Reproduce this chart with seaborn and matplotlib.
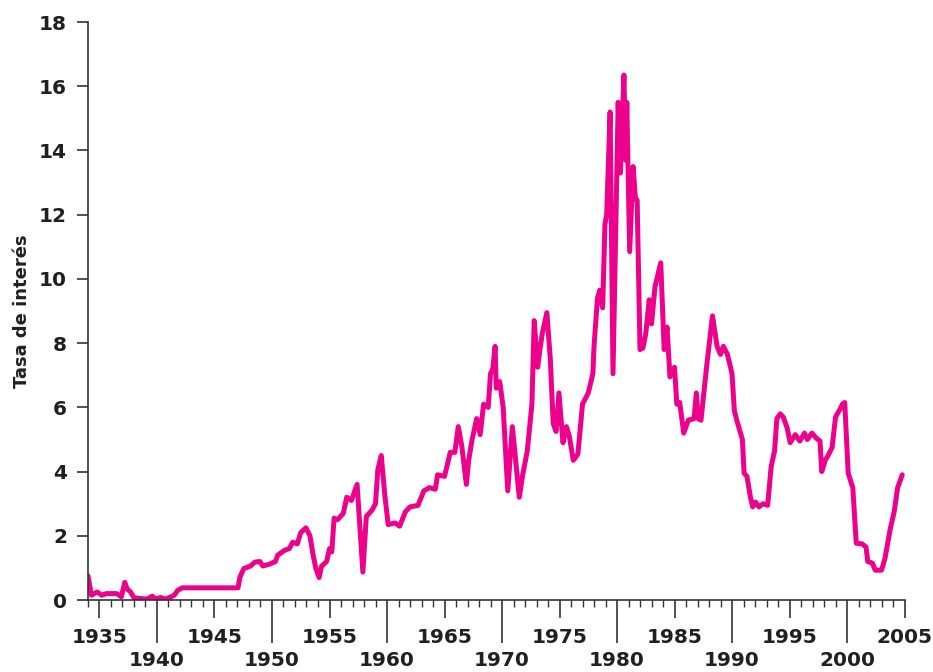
import numpy as np
import pandas as pd
import matplotlib
matplotlib.use("Agg")
import matplotlib.pyplot as plt
import seaborn as sns

# tasa de interés (letras del tesoro)
years = [
    1934.0, 1934.3, 1934.8, 1935.2, 1935.6, 1936.1, 1936.5, 1936.9, 1937.2, 1937.4,
    1937.7, 1938.0, 1938.5, 1939.1, 1939.6, 1939.9, 1940.3, 1940.7, 1941.1, 1941.5,
    1941.8, 1942.2, 1947.05, 1947.2, 1947.55, 1948.1, 1948.5, 1948.95, 1949.2, 1949.8,
    1950.3, 1950.5, 1951.1, 1951.5, 1951.8, 1952.2, 1952.5, 1952.95, 1953.3, 1953.55,
    1953.8, 1954.1, 1954.3, 1954.75, 1955.0, 1955.2, 1955.4, 1955.7, 1956.2, 1956.5,
    1956.9, 1957.4, 1957.6, 1957.9, 1958.2, 1958.7, 1959.0, 1959.2, 1959.5, 1959.8,
    1960.1, 1960.7, 1961.1, 1961.6, 1962.0, 1962.7, 1963.2, 1963.7, 1964.2, 1964.4,
    1965.0, 1965.5, 1965.9, 1966.2, 1966.5, 1966.9, 1967.1, 1967.4, 1967.8, 1968.1,
    1968.4, 1968.8, 1969.0, 1969.2, 1969.4, 1969.5, 1969.8, 1970.1, 1970.5, 1970.9,
    1971.5, 1971.8, 1972.2, 1972.6, 1972.8, 1973.1, 1973.3, 1973.5, 1973.9, 1974.2,
    1974.45, 1974.7, 1974.95, 1975.3, 1975.6, 1975.85, 1976.2, 1976.6, 1977.0, 1977.5,
    1977.9, 1978.0, 1978.3, 1978.5, 1978.75, 1978.95, 1979.1, 1979.4, 1979.65, 1980.1,
    1980.3, 1980.6, 1980.75, 1980.85, 1981.1, 1981.4, 1981.6, 1981.75, 1982.0, 1982.25,
    1982.5, 1982.8, 1983.0, 1983.3, 1983.8, 1984.1, 1984.35, 1984.6, 1985.0, 1985.2,
    1985.45, 1985.8, 1986.2, 1986.7, 1986.9, 1987.05, 1987.3, 1987.8, 1988.3, 1988.7,
    1989.0, 1989.25, 1989.6, 1990.0, 1990.2, 1990.45, 1990.9, 1991.05, 1991.3, 1991.6,
    1991.8, 1992.05, 1992.35, 1992.7, 1993.1, 1993.4, 1993.7, 1993.9, 1994.2, 1994.45,
    1994.8, 1995.05, 1995.5, 1995.9, 1996.3, 1996.55, 1996.95, 1997.3, 1997.65, 1997.8,
    1998.1, 1998.35, 1998.7, 1999.0, 1999.4, 1999.6, 1999.8, 2000.1, 2000.5, 2000.8,
    2001.3, 2001.65, 2001.8, 2002.2, 2002.45, 2003.0, 2003.3, 2003.75, 2004.1, 2004.4,
    2004.8,
]
rates = [
    0.75, 0.15, 0.25, 0.15, 0.2, 0.2, 0.2, 0.1, 0.55, 0.35,
    0.25, 0.07, 0.05, 0.03, 0.12, 0.03, 0.08, 0.03, 0.08, 0.15,
    0.3, 0.38, 0.38, 0.7, 0.98, 1.05, 1.18, 1.2, 1.06, 1.12,
    1.2, 1.4, 1.55, 1.6, 1.8, 1.75, 2.1, 2.25, 2.0, 1.45,
    1.0, 0.7, 1.05, 1.2, 1.6, 1.5, 2.55, 2.5, 2.7, 3.2,
    3.1, 3.6, 2.5, 0.87, 2.6, 2.8, 3.0, 4.05, 4.5, 3.3,
    2.35, 2.4, 2.3, 2.75, 2.9, 2.95, 3.4, 3.5, 3.45, 3.9,
    3.85, 4.6, 4.6, 5.4, 4.8, 3.6, 4.35, 5.0, 5.65, 5.15,
    6.1, 6.0, 7.05, 7.2, 7.9, 6.6, 6.8, 6.0, 3.4, 5.4,
    3.2, 3.9, 4.65, 6.1, 8.7, 7.25, 7.8, 8.3, 8.95, 7.5,
    5.5, 5.25, 6.45, 4.9, 5.4, 5.1, 4.35, 4.55, 6.1, 6.45,
    7.05, 7.9, 9.4, 9.65, 9.1, 11.7, 12.0, 15.2, 7.05, 15.5,
    13.3, 16.35, 13.7, 15.5, 10.85, 13.5, 12.5, 12.45, 7.8, 7.85,
    8.3, 9.35, 8.6, 9.75, 10.5, 7.8, 8.5, 6.95, 7.25, 6.1,
    6.15, 5.2, 5.6, 5.65, 6.45, 5.65, 5.6, 7.3, 8.85, 7.9,
    7.65, 7.9, 7.65, 7.05, 5.9, 5.55, 5.0, 3.95, 3.85, 3.2,
    2.9, 3.05, 2.9, 3.0, 2.95, 4.15, 4.65, 5.65, 5.8, 5.7,
    5.35, 4.9, 5.15, 4.95, 5.2, 5.0, 5.2, 5.05, 4.95, 4.0,
    4.35, 4.5, 4.75, 5.7, 5.95, 6.1, 6.15, 3.95, 3.5, 1.77,
    1.75, 1.65, 1.2, 1.15, 0.93, 0.93, 1.3, 2.2, 2.75, 3.5,
    3.9,
]

df = pd.DataFrame({"Año": years, "Tasa": rates})

sns.set_theme(style="white")
plt.rcParams["font.family"] = ["DejaVu Sans"]

fig = plt.figure(figsize=(9.33, 6.72), dpi=100)
ax = fig.add_axes([0.0943, 0.1071, 0.8752, 0.8601])

sns.lineplot(data=df, x="Año", y="Tasa", estimator=None, sort=False,
             color="#EC008C", linewidth=3.6, ax=ax, solid_joinstyle="round")

ax.set_xlim(1934, 2005)
ax.set_ylim(0, 18)

for side in ["top", "right"]:
    ax.spines[side].set_visible(False)
for side in ["left", "bottom"]:
    ax.spines[side].set_color("#333333")
    ax.spines[side].set_linewidth(1.2)

ax.set_yticks(np.arange(0, 19, 2))
ax.tick_params(axis="y", direction="out", length=8, width=1.2, color="#333333",
               pad=7, labelsize=14.5, left=True)

five = np.arange(1935, 2006, 5)
labels = [str(y) if y % 10 else "\n" + str(y) for y in five]
ax.set_xticks(five)
ax.set_xticklabels(labels, linespacing=1.3)
ax.set_xticks(np.arange(1934, 2006, 1), minor=True)
ax.tick_params(axis="x", which="major", direction="out", length=13, width=1.2,
               color="#333333", pad=7, labelsize=14.5, bottom=True)
ax.tick_params(axis="x", which="minor", direction="out", length=4.8, width=1.0,
               color="#333333", bottom=True)

for lab in ax.get_xticklabels() + ax.get_yticklabels():
    lab.set_fontweight("bold")
    lab.set_color("#231f20")

ax.set_xlabel("")
ax.set_ylabel("Tasa de interés", fontsize=13, fontweight="bold", color="#231f20")
ax.yaxis.set_label_coords(-0.07, 0.5)

# marcas de décadas más largas
for y, tick in zip(five, ax.xaxis.get_major_ticks()):
    if y % 10 == 0:
        tick.tick1line.set_markersize(31)

fig.savefig("out.png", dpi=100)
